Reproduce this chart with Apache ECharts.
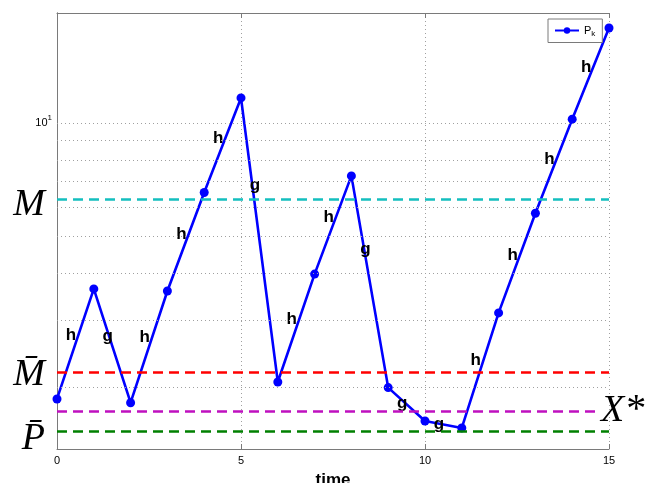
<!DOCTYPE html>
<html>
<head>
<meta charset="utf-8">
<script src="https://cdn.jsdelivr.net/npm/echarts@6/dist/echarts.min.js"></script>
<style>
html, body { margin: 0; padding: 0; background: #fff; }
#chart { width: 647px; height: 483px; }
</style>
</head>
<body>
<div id="chart"></div>
<script>
// Iteration index k and the iterate P_k (log scale)
const steps = [0, 1, 2, 3, 4, 5, 6, 7, 8, 9, 10, 11, 12, 13, 14, 15];
const P = [1.857, 3.636, 1.815, 3.59, 6.55, 11.67, 2.06, 3.98, 7.25, 1.99, 1.623, 1.556, 3.14, 5.77, 10.25, 17.89];
// Map applied on each step (k -> k+1)
const stepMaps = ['h', 'g', 'h', 'h', 'h', 'g', 'h', 'h', 'g', 'g', 'g', 'h', 'h', 'h', 'h'];

// Reference levels
const levelM = 6.29;
const levelMbar = 2.19;
const levelXstar = 1.726;
const levelPbar = 1.527;
const xStarEnd = 14.7;

// Axis ranges and log-grid values
const xRange = [0, 15];
const yRange = [1.368, 19.6];
const yGridValues = [2, 3, 4, 5, 6, 7, 8, 9, 10];

const AX = '#7a7a7a';
const SANS = 'Liberation Sans, Arial, sans-serif';
const SERIF = 'Liberation Serif, Times New Roman, serif';

const mainData = steps.map((k, i) => [k, P[i]]);
// Tag each step at the arithmetic mean of its end values
const tagData = stepMaps.map((t, i) => ({
  value: [steps[i] + 0.38, (P[i] + P[i + 1]) / 2],
  tag: t
}));

function levelLine(value, color, xEnd, text, pos, rich, dist) {
  return {
    type: 'line',
    data: [],
    z: 2,
    silent: true,
    markLine: {
      silent: true,
      symbol: 'none',
      animation: false,
      lineStyle: { color: color, width: 2.6, type: [10, 6] },
      label: {
        show: true,
        position: pos,
        distance: dist,
        formatter: text,
        rich: rich
      },
      emphasis: { disabled: true },
      data: [[{ coord: [xRange[0], value] }, { coord: [xEnd, value] }]]
    }
  };
}

const serifRich = (padTop) => ({
  m: { fontFamily: SERIF, fontStyle: 'italic', fontSize: 38, color: '#000', padding: [padTop, 0, 0, 0] },
  a: { fontFamily: SERIF, fontSize: 40, color: '#000', padding: [padTop, 0, 0, 2] }
});

const chart = echarts.init(document.getElementById('chart'), null, { renderer: 'canvas' });

chart.setOption({
  animation: false,
  backgroundColor: '#fff',
  grid: { left: 57, right: 38, top: 13, bottom: 34, outerBoundsMode: 'none', containLabel: false },
  legend: {
    left: 548,
    top: 19,
    padding: [6, 7, 5, 6],
    itemWidth: 24,
    itemHeight: 8,
    itemGap: 4,
    borderColor: AX,
    borderWidth: 1,
    backgroundColor: '#fff',
    borderRadius: 0,
    data: ['P_k'],
    formatter: () => '{p|P}{k|k}',
    textStyle: {
      rich: {
        p: { fontFamily: SANS, fontSize: 11, color: '#000' },
        k: { fontFamily: SANS, fontSize: 8, color: '#000', padding: [6, 0, 0, 0] }
      }
    }
  },
  xAxis: [
    {
      type: 'value',
      min: xRange[0],
      max: xRange[1],
      interval: 5,
      position: 'bottom',
      axisLine: { lineStyle: { color: AX, width: 1 } },
      axisTick: { inside: true, length: 5, lineStyle: { color: AX } },
      axisLabel: { fontFamily: SANS, fontSize: 11, color: '#000', margin: 6 },
      splitLine: { show: true, lineStyle: { color: '#a0a0a0', type: [1, 3], width: 1 } },
      name: 'time',
      nameLocation: 'middle',
      nameGap: 23,
      nameTextStyle: { fontFamily: SANS, fontSize: 17, fontWeight: 'bold', color: '#000' }
    },
    {
      type: 'value',
      min: xRange[0],
      max: xRange[1],
      interval: 5,
      position: 'top',
      axisLine: { lineStyle: { color: AX, width: 1 } },
      axisTick: { inside: true, length: 5, lineStyle: { color: AX } },
      axisLabel: { show: false },
      splitLine: { show: false }
    }
  ],
  yAxis: [
    {
      type: 'log',
      logBase: 10,
      min: yRange[0],
      max: yRange[1],
      position: 'left',
      axisLine: { show: true, lineStyle: { color: AX, width: 1 } },
      axisTick: { show: false },
      axisLabel: {
        margin: 5,
        formatter: (v) => (Math.abs(v - 10) < 1e-6 ? '{b|10}{s|1}' : ''),
        rich: {
          b: { fontFamily: SANS, fontSize: 11, color: '#000' },
          s: { fontFamily: SANS, fontSize: 8, color: '#000', padding: [0, 0, 11, 0] }
        }
      },
      splitLine: { show: false }
    },
    {
      type: 'log',
      logBase: 10,
      min: yRange[0],
      max: yRange[1],
      position: 'right',
      axisLine: { show: true, lineStyle: { color: AX, width: 1 } },
      axisTick: { show: false },
      axisLabel: { show: false },
      splitLine: { show: false }
    }
  ],
  series: [
    // dotted log grid lines
    {
      type: 'line',
      data: [],
      z: 1,
      silent: true,
      markLine: {
        silent: true,
        symbol: 'none',
        animation: false,
        label: { show: false },
        emphasis: { disabled: true },
        lineStyle: { color: '#a0a0a0', type: [1, 3], width: 1 },
        data: yGridValues.map(v => ({ yAxis: v }))
      }
    },
    levelLine(levelM, '#14bfbf', xRange[1], '{m|M}', 'start', serifRich(12), 12),
    levelLine(levelMbar, '#ff0000', xRange[1], '{m|M\u0304}', 'start', serifRich(6), 12),
    levelLine(levelXstar, '#bf10bf', xStarEnd, '{m|X}{a|*}', 'end', serifRich(0), 3),
    levelLine(levelPbar, '#008000', xRange[1], '{m|P\u0304}', 'start', serifRich(16), 12),
    {
      name: 'P_k',
      type: 'line',
      z: 3,
      data: mainData,
      symbol: 'circle',
      symbolSize: 9,
      showSymbol: true,
      lineStyle: { color: '#0000ff', width: 2.6 },
      itemStyle: { color: '#0000ff' },
      emphasis: { disabled: true }
    },
    {
      type: 'scatter',
      z: 4,
      silent: true,
      symbolSize: 0,
      data: tagData,
      label: {
        show: true,
        position: 'inside',
        formatter: (p) => p.data.tag,
        fontFamily: SANS,
        fontSize: 17,
        fontWeight: 'bold',
        color: '#000',
        opacity: 1,
        textBorderWidth: 0,
        textBorderColor: 'transparent'
      },
      emphasis: { disabled: true }
    }
  ]
});
</script>
</body>
</html>
